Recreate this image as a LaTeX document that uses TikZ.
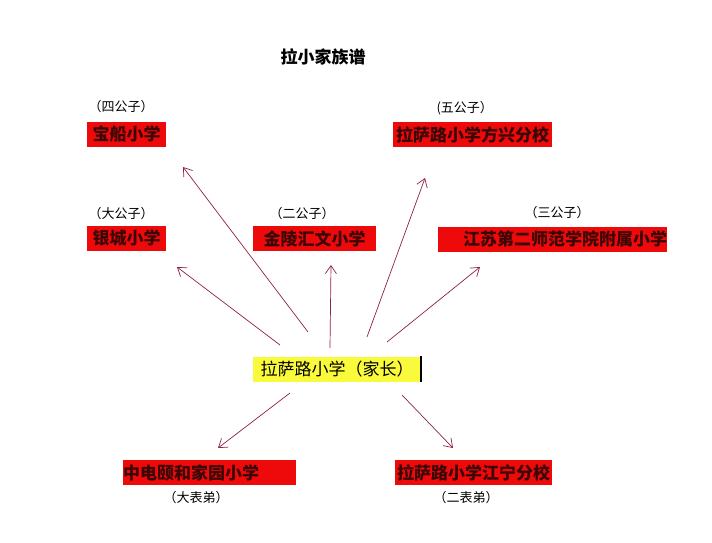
\documentclass[tikz,border=0pt]{standalone}
\usepackage{fontspec}
\setmainfont{Noto Sans CJK SC}
\usetikzlibrary{arrows.meta}
\definecolor{boxred}{HTML}{EE0A0A}
\definecolor{inkred}{HTML}{3A0606}
\definecolor{arrowred}{HTML}{8E2344}
\definecolor{headyellow}{HTML}{FAFA3C}

\begin{document}
\begin{tikzpicture}[x=1pt,y=-1pt,
			school/.style={fill=boxred,text=inkred,font=\fontsize{17}{17}\selectfont\bfseries,inner sep=0pt,minimum height=25pt,anchor=west},
			rank/.style={font=\fontsize{13}{13}\selectfont,anchor=west},
			family/.style={draw=arrowred,line width=0.7pt,-{Straight Barb[length=8pt,width=11pt]}}]
			\useasboundingbox[fill=white] (0,0) rectangle (712,542);
			\node[font=\fontsize{17}{17}\selectfont\bfseries] (title) at (323,57) {拉小家族谱};
			% sons
			\node[school,minimum width=79pt] (baochuan) at (87,134.5) {宝船小学};
			\node[school,minimum width=79pt] (yincheng) at (87,238) {银城小学};
			\node[school,minimum width=123pt] (jinling) at (253,238.5) {金陵汇文小学};
			\node[school,minimum width=159pt] (fangxing) at (393,134.5) {拉萨路小学方兴分校};
			\node[school,text width=229pt,align=right] (jiangsu) at (438,239) {江苏第二师范学院附属小学};
			\node[school,fill=headyellow,text=black,font=\fontsize{17}{17}\selectfont,minimum width=168pt] (home) at (253,369) {拉萨路小学（家长）};
			\draw[line width=2pt] (home.north east) -- (home.south east);
			% cousins
			\node[school,text width=173pt,align=left] (zhongdian) at (123,472.5) {中电颐和家园小学};
			\node[school,minimum width=157pt] (jiangning) at (395,472.5) {拉萨路小学江宁分校};
			\node[rank] (r4) at (85,107) {（四公子）};
			\node[rank] (r1) at (85,214) {（大公子）};
			\node[rank] (r2) at (266,214) {（二公子）};
			\node[rank] (r5) at (433,108) {(五公子）};
			\node[rank] (r3) at (521,213) {（三公子）};
			\node[rank] (c1) at (160,498) {（大表弟）};
			\node[rank] (c2) at (430,498) {（二表弟）};
			\coordinate (s1) at (308,332); \coordinate (t1) at (183,167);
			\coordinate (s2) at (280,345); \coordinate (t2) at (177,267);
			\coordinate (s3) at (330,348); \coordinate (t3) at (331,265);
			\coordinate (s4) at (367,337); \coordinate (t4) at (425,178);
			\coordinate (s5) at (387,342); \coordinate (t5) at (480,267);
			\coordinate (s6) at (290,393); \coordinate (t6) at (218,448);
			\coordinate (s7) at (402,395); \coordinate (t7) at (453,448);
			\foreach \n in {1,...,7}
			\draw[family] (s\n) -- (t\n);
		\end{tikzpicture}
\end{document}
